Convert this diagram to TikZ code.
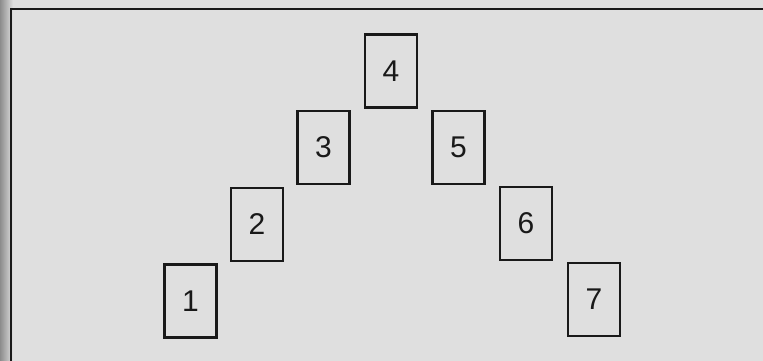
\documentclass[tikz,border=0pt]{standalone}
\usepackage{fontspec}
\setmainfont{Liberation Sans}
\definecolor{paper}{RGB}{223,223,223}
\definecolor{ink}{RGB}{25,25,25}
\begin{document}
\begin{tikzpicture}[x=1pt,y=-1pt,
  card/.style={draw=ink, line width=2.5pt, fill=paper, minimum width=52pt, minimum height=73pt,
    inner sep=0pt, font=\fontsize{30}{30}\selectfont, text=ink},
  frame/.style={draw=ink, line width=1.6pt}]
\useasboundingbox (0,0) rectangle (763,361);
\fill[paper] (0,0) rectangle (763,361);
\shade[left color=black!45, right color=paper] (0,0) rectangle (13,361);
\coordinate (tl) at (11,9);
\coordinate (tr) at (763,9);
\coordinate (bl) at (11,361);
\draw[frame] (bl) -- (tl) -- (tr);
\node[card] (c1) at (190.5,301) {1};
\node[card] (c2) at (257,224.5) {2};
\node[card] (c3) at (323.5,147.5) {3};
\node[card] (c4) at (391,71) {4};
\node[card] (c5) at (458.5,147.5) {5};
\node[card] (c6) at (526,223.5) {6};
\node[card] (c7) at (594,299.5) {7};
\end{tikzpicture}
\end{document}
